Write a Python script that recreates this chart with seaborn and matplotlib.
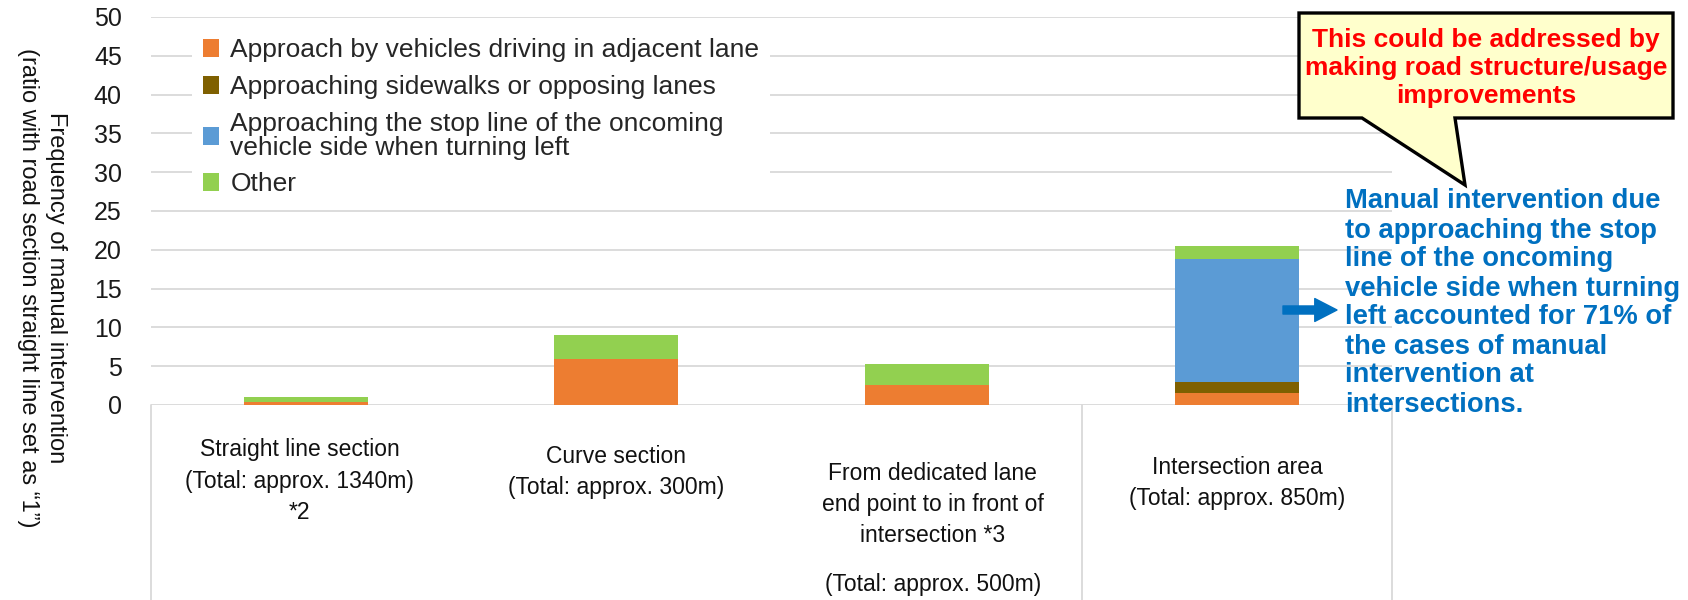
import matplotlib
matplotlib.use("Agg")
import matplotlib.pyplot as plt
import seaborn as sns
import numpy as np
from matplotlib.patches import Patch, Polygon

# data (ratio, straight line section = 1)
sections = ["Straight", "Curve", "Dedicated lane", "Intersection"]
adjacent_lane = [0.45, 5.9, 2.6, 1.55]
sidewalk_opposing = [0.0, 0.0, 0.0, 1.45]
stop_line_left = [0.0, 0.0, 0.0, 15.8]
other = [0.55, 3.1, 2.7, 1.7]

series_labels = ["Approach by vehicles driving in adjacent lane",
                 "Approaching sidewalks or opposing lanes",
                 "Approaching the stop line of the oncoming\nvehicle side when turning left",
                 "Other"]
series_colors = ["#ED7D31", "#7F6000", "#5B9BD5", "#92D050"]

W, H = 1688, 600


def fig_xy(x, y):
    # pixel position (top-left origin) -> figure fraction
    return x / W, 1 - y / H


def main():
    sns.set_style("white")
    plt.rcParams['font.family'] = ['Liberation Sans', 'DejaVu Sans']

    fig = plt.figure(figsize=(W / 100, H / 100), dpi=100)
    ax = fig.add_axes([151 / W, 195 / H, 1241 / W, 388 / H])

    # stacked bars: draw cumulative tops, highest layer first
    layers = [adjacent_lane, sidewalk_opposing, stop_line_left, other]
    tops = np.cumsum(layers, axis=0)
    for top, color in reversed(list(zip(tops, series_colors))):
        sns.barplot(x=sections, y=top, color=color, width=0.4, saturation=1,
                    errorbar=None, ax=ax, linewidth=0)

    ax.set_xlim(-0.5, 3.5)
    ax.set_ylim(0, 50)
    ax.set_yticks(np.arange(0, 51, 5))
    ax.set_axisbelow(True)
    ax.grid(axis='y', color='#D9D9D9', linewidth=1.3)
    ax.grid(axis='x', visible=False)
    for s in ax.spines.values():
        s.set_visible(False)
    ax.tick_params(axis='y', length=0, pad=21, labelsize=18, labelcolor='#1a1a1a')
    ax.set_xticks(range(4))
    ax.set_xticklabels([])
    ax.tick_params(axis='x', length=0)
    ax.set_xlabel('')

    # category axis dividers
    for xb in [-0.5, 2.5, 3.5]:
        ax.axvline(xb, ymin=-0.503, ymax=0, color='#D9D9D9', linewidth=1.3, clip_on=False)

    tr = ax.get_xaxis_transform()
    cat_kw = dict(transform=tr, ha='center', va='center', multialignment='center',
                  fontsize=16.5, linespacing=1.45, color='#111111')
    ax.text(-0.02, -0.196, "Straight line section\n(Total: approx. 1340m)\n*2", **cat_kw)
    ax.text(1, -0.173, "Curve section\n(Total: approx. 300m)", **cat_kw)
    ax.text(2.02, -0.256, "From dedicated lane\nend point to in front of\nintersection *3", **cat_kw)
    ax.text(2.02, -0.463, "(Total: approx. 500m)", **cat_kw)
    ax.text(3, -0.2, "Intersection area\n(Total: approx. 850m)", **cat_kw)

    # y label
    ax.set_ylabel("Frequency of manual intervention\n(ratio with road section straight line set as \u201c1\u201d)",
                  rotation=270, fontsize=17, linespacing=1.3, ha='center', va='center',
                  multialignment='center', color='#111111')
    ax.yaxis.set_label_coords((42 - 151) / 1241, (405 - 288) / 388)

    # legend
    handles = [Patch(facecolor=c, edgecolor='none', label=l)
               for c, l in zip(series_colors, series_labels)]
    leg = ax.legend(handles=handles, loc='upper left', bbox_to_anchor=(0.033, 0.972),
                    frameon=True, facecolor='white', edgecolor='none', framealpha=1,
                    fontsize=19, handlelength=0.64, handleheight=0.64,
                    handletextpad=0.42, labelspacing=0.48, borderpad=0.4, borderaxespad=0)
    leg.get_texts()[2].set_linespacing(1.0)

    # speech bubble callout
    bubble = [(1299, 13), (1673, 13), (1673, 118), (1455, 118), (1465, 185),
              (1362, 118), (1299, 118)]
    fig.add_artist(Polygon([fig_xy(*p) for p in bubble], closed=True,
                           transform=fig.transFigure, facecolor='#FFFFCC',
                           edgecolor='black', linewidth=2.4, zorder=5))
    fig.text(*fig_xy(1486, 68), "This could be addressed by\nmaking road structure/usage\nimprovements",
             ha='center', va='center', color='#FF0000', fontsize=19, fontweight='bold',
             linespacing=1.2, zorder=6)

    # arrow + blue note
    ax.annotate('', xy=fig_xy(1337, 310), xytext=fig_xy(1283, 310),
                xycoords='figure fraction', textcoords='figure fraction',
                arrowprops=dict(arrowstyle='simple,head_width=1.65,head_length=1.6,tail_width=0.58',
                                mutation_scale=10, color='#0070C0', shrinkA=0, shrinkB=0))
    fig.text(*fig_xy(1345, 303),
             "Manual intervention due\nto approaching the stop\nline of the oncoming\n"
             "vehicle side when turning\nleft accounted for 71% of\nthe cases of manual\n"
             "intervention at\nintersections.",
             ha='left', va='center', color='#0070C0', fontsize=19.7, fontweight='bold',
             linespacing=1.15)

    fig.savefig('out.png', dpi=100)


if __name__ == '__main__':
    main()
